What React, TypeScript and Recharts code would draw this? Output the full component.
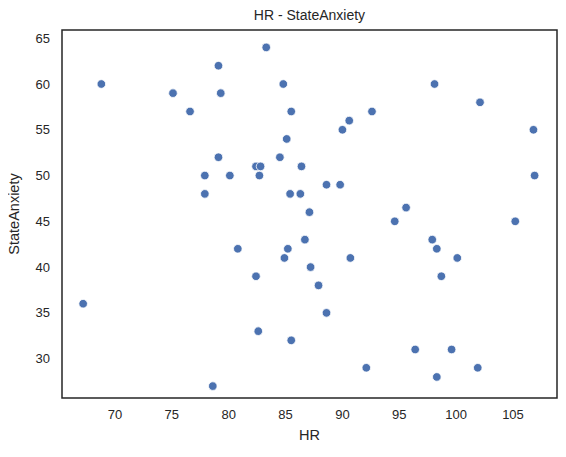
import { ScatterChart, Scatter, XAxis, YAxis, ReferenceArea, Label } from "recharts";

const hr = [68.8, 79.1, 83.3, 75.1, 79.3, 84.8, 76.6, 85.5, 85.1, 79.1, 84.5, 82.4, 82.8, 86.4, 77.9, 80.1, 82.7, 77.9, 85.4, 86.3, 87.1,
  98.1, 102.1, 92.6, 90.6, 90.0, 106.8, 106.9, 88.6, 89.8, 95.6, 94.6, 105.2,
  86.7, 80.8, 85.2, 84.9, 87.2, 82.4, 67.2, 82.6, 85.5, 78.6,
  97.9, 98.3, 90.7, 100.1, 98.7, 87.9, 88.6, 96.4, 99.6, 92.1, 101.9, 98.3];
const anxiety = [60, 62, 64, 59, 59, 60, 57, 57, 54, 52, 52, 51, 51, 51, 50, 50, 50, 48, 48, 48, 46,
  60, 58, 57, 56, 55, 55, 50, 49, 49, 46.5, 45, 45,
  43, 42, 42, 41, 40, 39, 36, 33, 32, 27,
  43, 42, 41, 41, 39, 38, 35, 31, 31, 29, 29, 28];
const xTicks = [70, 75, 80, 85, 90, 95, 100, 105];
const yTicks = [30, 35, 40, 45, 50, 55, 60, 65];

const points = hr.map((x, i) => ({ x, y: anxiety[i] }));
const xDomain: [number, number] = [65.34, 108.87];
const yDomain: [number, number] = [25.7, 65.9];
const ink = "#262626";
const font = "Liberation Sans, Arial, sans-serif";

const Dot = (p: any) => <circle cx={p.cx} cy={p.cy} r={4.3} fill="#4c72b0" stroke="#fff" strokeWidth={0.8} />;

export default function App() {
  return (
    <div style={{ position: "relative", margin: "-8px 0 0 -8px", width: 566, height: 457, fontFamily: font, background: "#fff" }}>
      <div style={{ position: "absolute", top: 7, left: 62, width: 495, textAlign: "center", fontSize: 14, color: ink }}>
        HR - StateAnxiety
      </div>
      <ScatterChart width={566} height={457} margin={{ top: 30, right: 9, bottom: 29, left: 10 }} style={{ fontFamily: font }}>
        <XAxis type="number" dataKey="x" domain={xDomain} ticks={xTicks} allowDataOverflow height={30}
          axisLine={false} tickLine={false} tick={{ fill: ink, fontSize: 13 }} tickMargin={6}>
          <Label value="HR" position="insideBottom" offset={-12} fill={ink} fontSize={14.5} />
        </XAxis>
        <YAxis type="number" dataKey="y" domain={yDomain} ticks={yTicks} allowDataOverflow width={52}
          axisLine={false} tickLine={false} tick={{ fill: ink, fontSize: 13 }} tickMargin={6}>
          <Label value="StateAnxiety" angle={-90} position="insideLeft" offset={0} dx={4} fill={ink} fontSize={14.5} style={{ textAnchor: "middle" }} />
        </YAxis>
        <ReferenceArea x1={xDomain[0]} x2={xDomain[1]} y1={yDomain[0]} y2={yDomain[1]} fill="none" stroke={ink} strokeWidth={1.5} />
        <Scatter data={points} shape={Dot} isAnimationActive={false} />
      </ScatterChart>
    </div>
  );
}
